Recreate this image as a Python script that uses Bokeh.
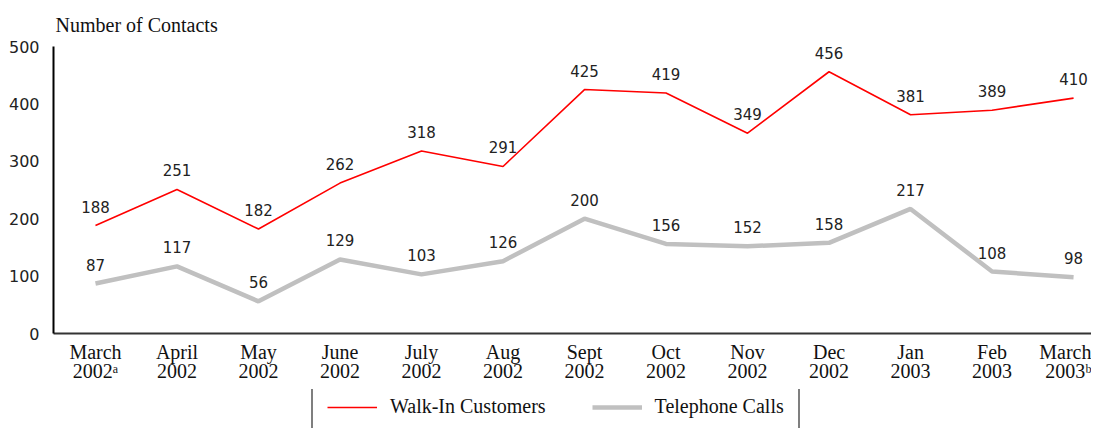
from bokeh.plotting import figure
from bokeh.layouts import column
from bokeh.models import Range1d, FixedTicker, Legend, LegendItem, ColumnDataSource, Title, LinearAxis
from bokeh.core.properties import value
from bokeh.embed import file_html
from bokeh.resources import INLINE

month_names = ["March", "April", "May", "June", "July", "Aug", "Sept", "Oct", "Nov", "Dec", "Jan", "Feb", "March"]
years = ["2002\u1d43", "2002", "2002", "2002", "2002", "2002", "2002", "2002", "2002", "2002", "2003", "2003", "2003\u1d47"]
walk_in = [188, 251, 182, 262, 318, 291, 425, 419, 349, 456, 381, 389, 410]
phone = [87, 117, 56, 129, 103, 126, 200, 156, 152, 158, 217, 108, 98]
y_ticks = [0, 100, 200, 300, 400, 500]
series_names = ["Walk-In Customers", "Telephone Calls"]

xs = list(range(len(month_names)))

p = figure(width=1091, height=389, output_backend="svg", toolbar_location=None,
           x_range=Range1d(-0.515, 12.22), y_range=Range1d(0, 500),
           min_border_left=53, min_border_right=0, min_border_top=46, min_border_bottom=56)
p.outline_line_color = None
p.xgrid.visible = False
p.ygrid.visible = False

p.title = Title(text="Number of Contacts", align="left", text_font="Liberation Serif",
                text_font_size="20px", text_font_style="normal", text_color="#111111",
                offset=2, standoff=22)

src = ColumnDataSource(dict(x=xs, w=walk_in, t=phone,
                            wl=[str(v) for v in walk_in], tl=[str(v) for v in phone]))

p.line("x", "w", source=src, line_color="#ff0000", line_width=1.6)
p.line("x", "t", source=src, line_color="#c0c0c0", line_width=4.5)

for col, lab in (("w", "wl"), ("t", "tl")):
    p.text("x", col, text=lab, source=src, text_align="center", text_baseline="middle",
           y_offset=-19, text_font=value("DejaVu Sans"), text_font_size="15px",
           text_color="#222222")

p.xaxis.ticker = FixedTicker(ticks=xs)
p.xaxis.major_label_overrides = {i: m for i, m in enumerate(month_names)}
p.xaxis.major_label_text_font = "Liberation Serif"
p.xaxis.major_label_text_font_size = "20px"
p.xaxis.major_label_text_color = "#111111"
p.xaxis.major_label_standoff = 1
p.xaxis.major_tick_line_color = None
p.xaxis.minor_tick_line_color = None
p.xaxis.axis_line_color = "#333333"
p.xaxis.axis_line_width = 2

year_axis = LinearAxis(ticker=FixedTicker(ticks=xs),
                       major_label_overrides={i: y for i, y in enumerate(years)},
                       major_label_text_font="Liberation Serif", major_label_text_font_size="20px",
                       major_label_text_color="#111111", major_label_standoff=-12,
                       major_tick_line_color=None, minor_tick_line_color=None,
                       axis_line_color=None)
p.add_layout(year_axis, "below")

p.yaxis.ticker = FixedTicker(ticks=y_ticks)
p.yaxis.major_label_text_font = "DejaVu Sans"
p.yaxis.major_label_text_font_size = "16px"
p.yaxis.major_label_text_color = "#222222"
p.yaxis.major_label_standoff = 8
p.yaxis.major_tick_line_color = None
p.yaxis.minor_tick_line_color = None
p.yaxis.axis_line_color = "#000000"
p.yaxis.axis_line_width = 2

# legend strip (series are drawn again here only to provide legend glyphs; they fall outside its view)
p2 = figure(width=1091, height=39, output_backend="svg", toolbar_location=None,
            x_range=Range1d(-0.515, 12.22), y_range=Range1d(10000, 10001),
            x_axis_type=None, y_axis_type=None, min_border=0)
p2.outline_line_color = None
p2.xgrid.visible = False
p2.ygrid.visible = False
l1 = p2.line("x", "w", source=src, line_color="#ff0000", line_width=1.6)
l2 = p2.line("x", "t", source=src, line_color="#c0c0c0", line_width=4.5)

legend = Legend(items=[LegendItem(label=series_names[0], renderers=[l1]),
                       LegendItem(label=series_names[1], renderers=[l2])],
                orientation="horizontal", location=(258, -6),
                label_text_font="Liberation Serif", label_text_font_size="20px",
                label_text_color="#111111", glyph_width=50, glyph_height=20,
                label_standoff=13, spacing=46, padding=14, margin=0,
                border_line_color="#000000", border_line_width=2,
                background_fill_alpha=1.0)
p2.add_layout(legend, "center")

open("out.html", "w").write(file_html(column(p, p2, spacing=0), INLINE))
